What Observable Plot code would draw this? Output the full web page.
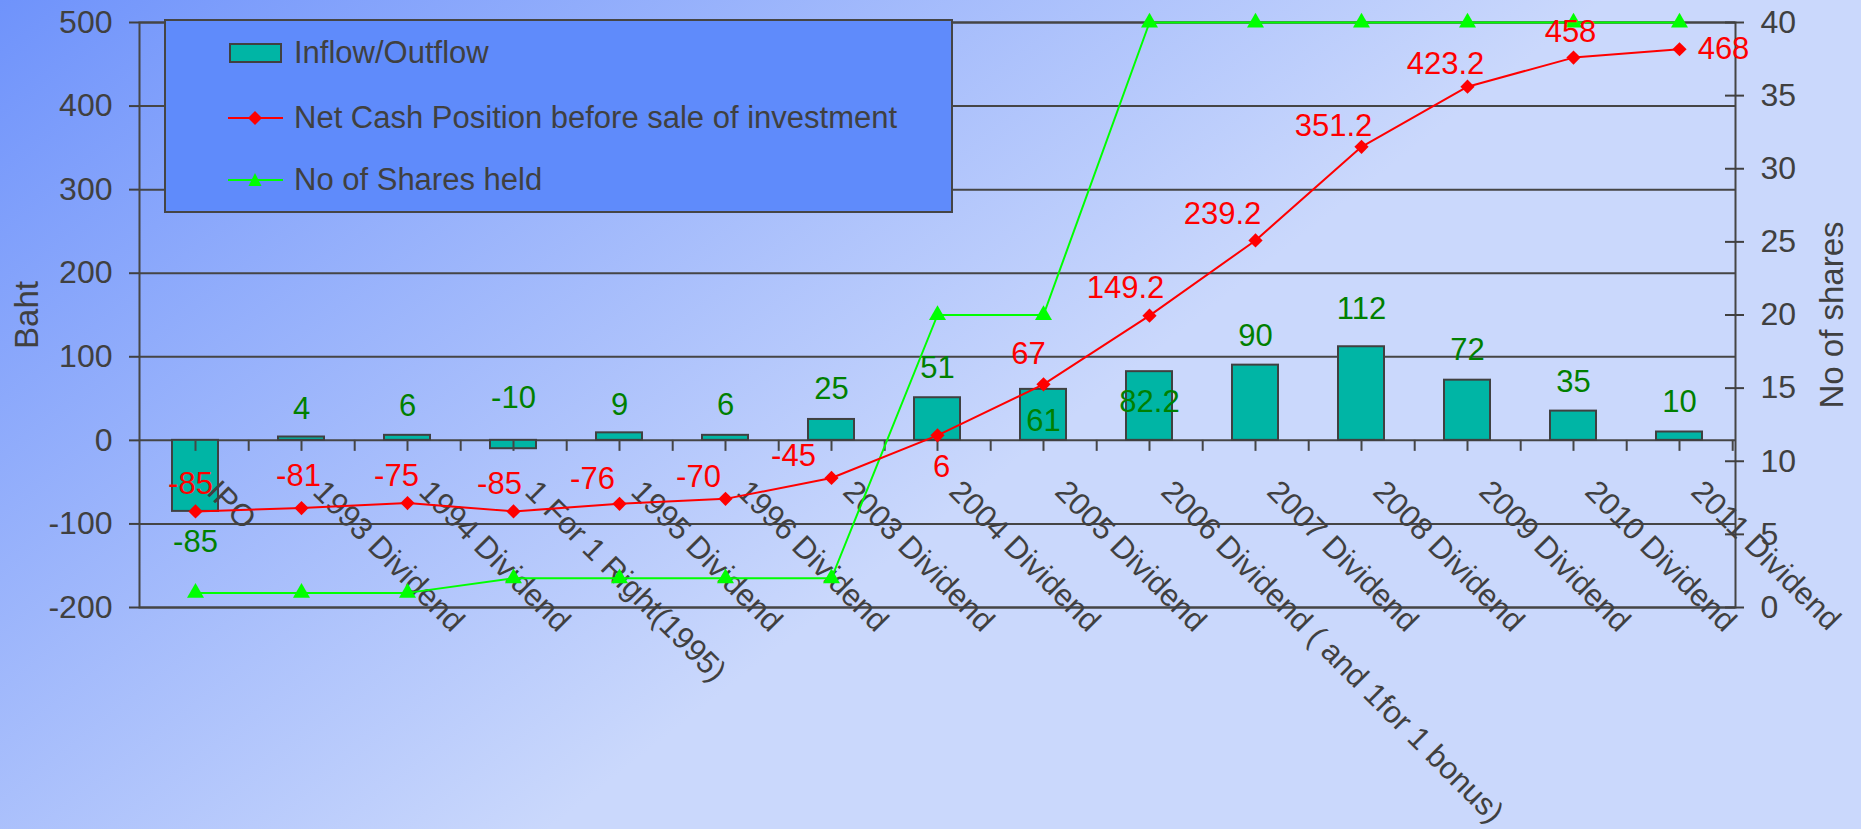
<!DOCTYPE html>
<html>
<head>
<meta charset="utf-8">
<script src="https://cdn.jsdelivr.net/npm/d3@7"></script>
<script src="https://cdn.jsdelivr.net/npm/@observablehq/plot@0.6"></script>
<style>
  html, body { margin: 0; padding: 0; }
  body { width: 1861px; height: 829px; overflow: hidden;
         background: linear-gradient(141.8deg, #6f93fb 0%, #cad8fc 55%, #cad8fc 100%);
         font-family: "Liberation Sans", Arial, sans-serif; }
  #wrap { position: relative; width: 1861px; height: 829px; }
  #legend { position: absolute; left: 164px; top: 19px; width: 785px; height: 190px;
            background: #5f8bfb; border: 2px solid #454545; }
  .item { position: absolute; left: 62px; height: 30px; display: flex; align-items: center; }
  .item span { margin-left: 10px; font-size: 31px; color: #404040; white-space: nowrap; }
</style>
</head>
<body>
<div id="wrap">
  <div id="chart"></div>
  <div id="legend"></div>
</div>
<script>
// ---- data ----
const categories = ["IPO", "1993 Dividend", "1994 Dividend", "1 For 1 Right(1995)", "1995 Dividend",
  "1996 Dividend", "2003 Dividend", "2004 Dividend", "2005 Dividend",
  "2006 Dividend ( and 1for 1 bonus)", "2007 Dividend", "2008 Dividend", "2009 Dividend",
  "2010 Dividend", "2011 Dividend"];
const inflow = [-85, 4, 6, -10, 9, 6, 25, 51, 61, 82.2, 90, 112, 72, 35, 10];
const netCash = [-85, -81, -75, -85, -76, -70, -45, 6, 67, 149.2, 239.2, 351.2, 423.2, 458, 468];
const sharesHeld = [1, 1, 1, 2, 2, 2, 2, 20, 20, 40, 40, 40, 40, 40, 40];
const bahtTicks = [-200, -100, 0, 100, 200, 300, 400, 500];
const shareTicks = [0, 5, 10, 15, 20, 25, 30, 35, 40];
const seriesNames = ["Inflow/Outflow", "Net Cash Position before sale of investment", "No of Shares held"];

// ---- label placement (style only) ----
const flowLabelDy = [31, -28, -29, -51, -28, -30, -30, -30, 32, 30, -29, -38, -30, -29, -30];
const cashLabelDx = [-5, -3, -11, -14, -27, -27, -38, 4, -15, -24, -33, -28, -22, -3, 44];
const cashLabelDy = [-27, -32, -27, -27, -25, -22, -22, 32, -30, -28, -26, -21, -23, -26, 0];

// right axis (0..40 shares) mapped onto the left Baht scale (-200..500)
const shareDomain = [0, 40], bahtDomain = [-200, 500];
const toBaht = s => bahtDomain[0] + (s - shareDomain[0]) * (bahtDomain[1] - bahtDomain[0]) / (shareDomain[1] - shareDomain[0]);
const fromBaht = b => shareDomain[0] + (b - bahtDomain[0]) * (shareDomain[1] - shareDomain[0]) / (bahtDomain[1] - bahtDomain[0]);

const rows = categories.map((c, i) => ({cat: c, flow: inflow[i], cash: netCash[i], shares: sharesHeld[i], i}));

const GRID = "#454545", INK = "#404040";
const FONT = "Liberation Sans, Arial, sans-serif";

const labelMarks = [];
rows.forEach((d, i) => {
  labelMarks.push(Plot.text([d], {x: "cat", y: "flow", text: r => String(r.flow), dy: flowLabelDy[i],
    fill: "#008000", fontSize: 31}));
  labelMarks.push(Plot.text([d], {x: "cat", y: "cash", text: r => String(r.cash), dx: cashLabelDx[i], dy: cashLabelDy[i],
    fill: "#ff0000", fontSize: 31}));
});

const chart = Plot.plot({
  width: 1861, height: 829,
  marginLeft: 139, marginRight: 126, marginTop: 22, marginBottom: 222,
  style: {background: "transparent", fontFamily: FONT, color: INK, overflow: "visible"},
  x: {type: "band", domain: categories, padding: 0, axis: null},
  y: {domain: bahtDomain},
  marks: [
    Plot.ruleY(bahtTicks, {stroke: GRID, strokeWidth: 2}),
    Plot.frame({stroke: GRID, strokeWidth: 2}),
    Plot.barY(rows, {x: "cat", y: "flow", fill: "#00b5a5", stroke: INK, strokeWidth: 2, insetLeft: 30, insetRight: 30}),
    // category axis ticks at y = 0 (centres and boundaries)
    Plot.ruleX(rows, {x: "cat", y1: () => 0, y2: () => 0, insetBottom: -11, stroke: GRID, strokeWidth: 2}),
    Plot.ruleX(rows, {x: "cat", y1: () => 0, y2: () => 0, insetBottom: -11, dx: 53.2, stroke: GRID, strokeWidth: 2}),
    Plot.text(rows, {x: "cat", y: () => 0, text: "cat", rotate: 45, textAnchor: "start", lineAnchor: "bottom",
      dx: 10, dy: 53, fontSize: 31, fill: INK}),
    Plot.line(rows, {x: "cat", y: d => toBaht(d.shares), stroke: "#00ff00", strokeWidth: 2}),
    Plot.dot(rows, {x: "cat", y: d => toBaht(d.shares), symbol: "triangle", r: 6.3, fill: "#00ff00", stroke: "none"}),
    Plot.line(rows, {x: "cat", y: "cash", stroke: "#ff0000", strokeWidth: 2}),
    Plot.dot(rows, {x: "cat", y: "cash", symbol: "diamond2", r: 6.4, fill: "#ff0000", stroke: "none"}),
    ...labelMarks,
    Plot.axisY({anchor: "left", ticks: bahtTicks, tickFormat: d => String(d), tickSize: 10, tickPadding: 17,
      fontSize: 32, color: INK, strokeWidth: 2, label: null}),
    Plot.axisY({anchor: "right", ticks: shareTicks.map(toBaht), tickFormat: d => String(Math.round(fromBaht(d))),
      tickSize: 19, tickPadding: 17, dx: -11, fontSize: 32, color: INK, strokeWidth: 2, label: null}),
    Plot.text(["Baht"], {frameAnchor: "left", text: d => d, rotate: -90, textAnchor: "middle", dx: -112, fontSize: 33, fill: INK}),
    Plot.text(["No of shares"], {frameAnchor: "right", text: d => d, rotate: -90, textAnchor: "middle", dx: 97, fontSize: 33, fill: INK})
  ]
});
document.getElementById("chart").appendChild(chart);

// ---- legend (overlay inside the plot area) ----
const legend = d3.select("#legend");
const itemTops = [17, 82, 144];
seriesNames.forEach((name, k) => {
  const it = legend.append("div").attr("class", "item").style("top", itemTops[k] + "px");
  const svg = it.append("svg").attr("width", 56).attr("height", 24);
  if (k === 0) {
    svg.append("rect").attr("x", 2).attr("y", 3).attr("width", 51).attr("height", 18)
      .attr("fill", "#00b5a5").attr("stroke", INK).attr("stroke-width", 2);
  } else if (k === 1) {
    svg.append("line").attr("x1", 0).attr("x2", 55).attr("y1", 12).attr("y2", 12).attr("stroke", "#ff0000").attr("stroke-width", 2);
    svg.append("path").attr("d", "M27,5L34,12L27,19L20,12Z").attr("fill", "#ff0000");
  } else {
    svg.append("line").attr("x1", 0).attr("x2", 55).attr("y1", 12).attr("y2", 12).attr("stroke", "#00ff00").attr("stroke-width", 2);
    svg.append("path").attr("d", "M27,5L33.5,18L20.5,18Z").attr("fill", "#00ff00");
  }
  it.append("span").text(name);
});
</script>
</body>
</html>
